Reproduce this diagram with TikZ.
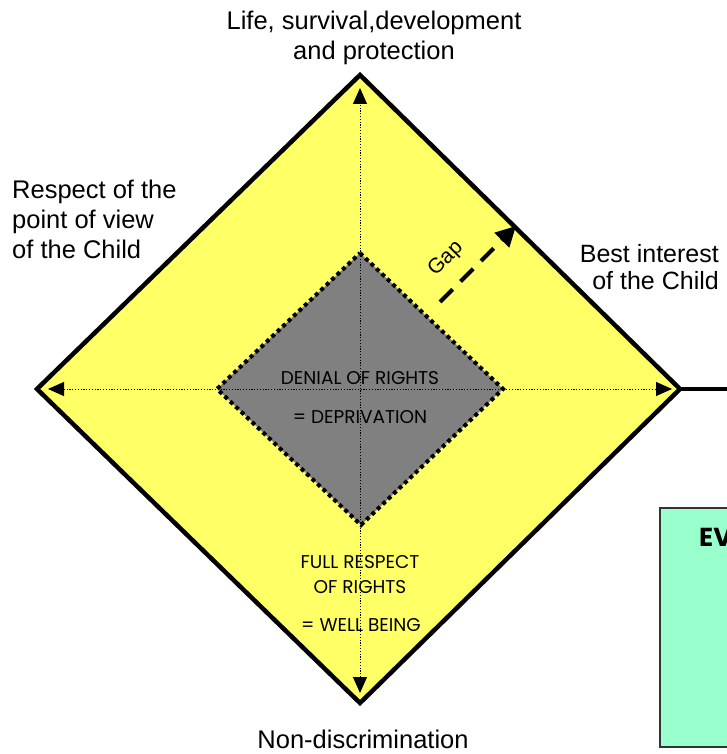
\documentclass[tikz,border=0pt]{standalone}
\usepackage{fontspec}
\setmainfont{Liberation Sans}
\newfontfamily\gothic{Poppins}
\usetikzlibrary{arrows.meta}
\definecolor{dyellow}{HTML}{FFFF66}
\definecolor{dgray}{HTML}{808080}
\definecolor{dgreen}{HTML}{99FFCC}
\definecolor{dborder}{HTML}{333333}
\tikzset{
  outerdia/.style={fill=dyellow, draw=black, line width=4.5pt, line join=miter},
  innerdia/.style={fill=dgray, draw=black, line width=4pt, dash pattern=on 4pt off 3.5pt},
  axis/.style={draw=black, line width=1pt, dash pattern=on 1.2pt off 1.6pt,
    {Triangle[length=16pt,width=14pt]}-{Triangle[length=16pt,width=14pt]}},
  gaparrow/.style={draw=black, line width=4pt, dash pattern=on 18pt off 11pt,
    -{Triangle[length=20pt,width=20pt]}},
  outlabel/.style={font=\fontsize{25.5}{30}\selectfont, inner sep=0pt},
  intext/.style={font=\gothic\fontsize{18.5}{25}\selectfont, inner sep=0pt, align=center},
  greenbox/.style={fill=dgreen, draw=dborder, line width=1.5pt}
}
\begin{document}
\begin{tikzpicture}[x=1pt, y=-1pt]
\useasboundingbox (0,0) rectangle (727,754);
\clip (0,0) rectangle (727,754);
% outer diamond vertices
\coordinate (ot) at (360,75);
\coordinate (or) at (680,389);
\coordinate (ob) at (360,703);
\coordinate (ol) at (37,389);
% inner diamond vertices
\coordinate (it) at (360,253);
\coordinate (ir) at (503,389);
\coordinate (ib) at (361,525);
\coordinate (il) at (217,389);
% axis tips
\coordinate (at) at (360,88);
\coordinate (ab) at (360,693);
\coordinate (al) at (48,389);
\coordinate (ar) at (672,389);
\coordinate (lineend) at (740,389);
% gap arrow
\coordinate (gs) at (440,302);
\coordinate (ge) at (516,226);

\draw[line width=4pt] (or) -- (lineend);
\draw[outerdia] (ot) -- (or) -- (ob) -- (ol) -- cycle;
\draw[innerdia] (it) -- (ir) -- (ib) -- (il) -- cycle;
\draw[axis] (al) -- (ar);
\draw[axis] (ab) -- (at);
\draw[gaparrow] (gs) -- (ge);

\node[greenbox, minimum width=100pt, minimum height=239pt, anchor=north west] (box) at (659,507) {};
\node[font=\gothic\bfseries\fontsize{26}{30}\selectfont, anchor=west, inner sep=0pt] (ev) at (699,537) {EV};

\node[outlabel, align=center] (life) at (374,38) {Life, survival,development\\and protection};
\node[outlabel, align=left, anchor=west] (resp) at (12,219) {Respect of the\\point of view\\of the Child};
\node[outlabel, align=right, anchor=east, font=\fontsize{25}{27}\selectfont] (best) at (719,267) {Best interest\\of the Child};
\node[outlabel] (nondis) at (363,739) {Non-discrimination};
\node[font=\fontsize{21}{24}\selectfont, rotate=45, inner sep=0pt] (gap) at (446,259) {Gap};

\node[intext, font=\gothic\fontsize{18.5}{39}\selectfont] (denial) at (360,398) {DENIAL OF RIGHTS\\= DEPRIVATION};
\node[intext] (full) at (360,575) {FULL RESPECT\\OF RIGHTS};
\node[intext] (well) at (361,625) {= WELL BEING};
\end{tikzpicture}
\end{document}
